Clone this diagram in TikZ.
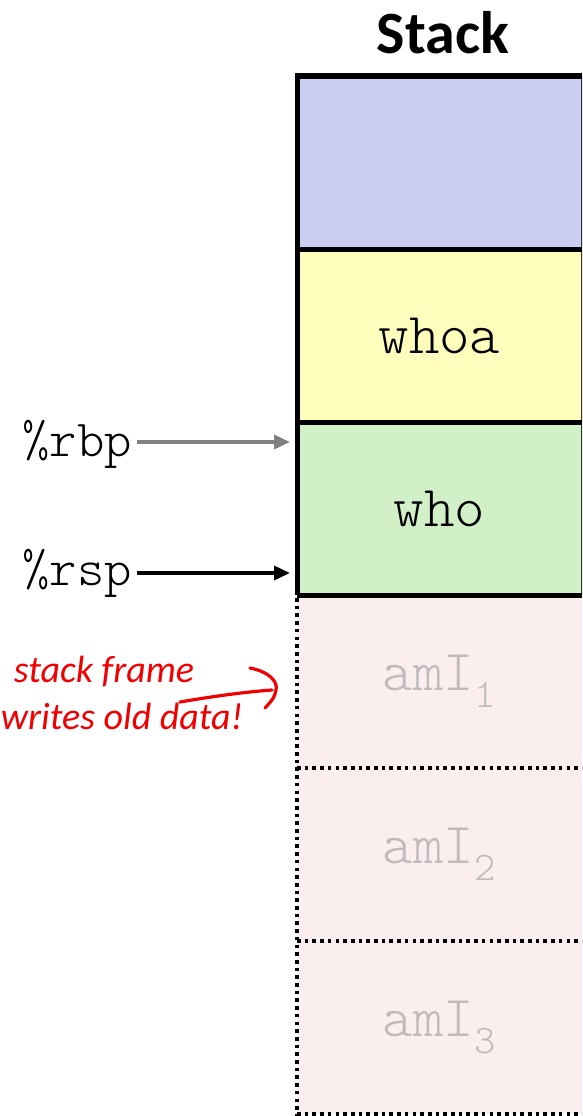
\documentclass[tikz,border=0pt]{standalone}
\usepackage{fontspec}
\setmainfont{Liberation Serif}
\setsansfont{Carlito}
\setmonofont{Latin Modern Mono Light}
\usetikzlibrary{arrows.meta,calc}
\definecolor{cblue}{RGB}{203,205,242}
\definecolor{cyellow}{RGB}{255,253,187}
\definecolor{cgreen}{RGB}{210,240,200}
\definecolor{cpink}{RGB}{250,239,238}
\definecolor{cghost}{RGB}{192,186,186}
\definecolor{cgrayarrow}{RGB}{128,128,128}
\definecolor{cred}{RGB}{240,0,0}
\tikzset{
  cell/.style={rectangle, draw=none, inner sep=0pt, outer sep=0pt,
    minimum width=285pt, minimum height=173pt,
    font=\fontsize{58}{64}\selectfont\ttfamily},
  ghost/.style={cell, fill=cpink, text=cghost},
  solidborder/.style={line width=5pt, black},
  dotborder/.style={line width=3.6pt, black, dash pattern=on 3.6pt off 4.1pt},
  reglabel/.style={inner sep=0pt, font=\fontsize{52}{58}\selectfont\ttfamily},
  regarrow/.style={line width=3.6pt, -{Triangle[length=16pt,width=14pt]}},
  hand/.style={inner sep=0pt, text=cred, font=\fontsize{38}{44}\selectfont\sffamily\itshape},
  handline/.style={cred, line width=3.2pt, line cap=round, line join=round},
}
\begin{document}
\begin{tikzpicture}[x=1pt,y=-1pt]
\useasboundingbox (0,0) rectangle (582,1116);
\clip (0,0) rectangle (582,1116);
% title
\node[inner sep=0pt, font=\fontsize{60}{66}\selectfont\sffamily\bfseries] (title) at (443,33) {Stack};
% cells
\node[cell, fill=cblue]   (b1) at (439.5,162.5) {};
\node[cell, fill=cyellow] (b2) at (439.5,335.5) {whoa};
\node[cell, fill=cgreen]  (b3) at (439.5,508.5) {who};
\node[ghost] (b4) at (439.5,681.5) {amI\textsubscript{1}};
\node[ghost] (b5) at (439.5,854.5) {amI\textsubscript{2}};
\node[ghost] (b6) at (439.5,1027.5) {amI\textsubscript{3}};
% borders of the solid frames
\draw[line width=1.2pt, black!80] (b1.north east) -- (b3.south east);
\draw[solidborder] (b1.north east) -- (b1.north west) -- (b3.south west);
\draw[solidborder] (b1.south west) -- (b1.south east);
\draw[solidborder] (b2.south west) -- (b2.south east);
\draw[solidborder] (b3.south west) -- (b3.south east);
% dotted old frames
\draw[dotborder] ($(b4.north west)+(0,3)$) -- ($(b6.south west)+(0,2)$);
\draw[dotborder] (b4.south west) -- (b4.south east);
\draw[dotborder] (b5.south west) -- (b5.south east);
\draw[dotborder] (b6.south west) -- (b6.south east);
% registers
\node[reglabel, anchor=east] (rbp) at (132,444) {\%rbp};
\node[reglabel, anchor=east] (rsp) at (132,573) {\%rsp};
\draw[regarrow, cgrayarrow] ($(rbp.east)+(5,-2)$) -- ($(rbp.east -| b3.west)+(-7,-2)$);
\draw[regarrow, black] ($(rsp.east)+(5,0)$) -- ($(rsp.east -| b3.west)+(-7,0)$);
% handwritten note
\node[hand] (note1) at (104,672) {stack frame};
\node[hand] (note2) at (122,716) {writes old data!};
\coordinate (ha) at (180,702);
\coordinate (hb) at (272,690);
\coordinate (hc) at (250,668);
\coordinate (hd) at (265,708);
\draw[handline] (ha) .. controls (215,696) and (245,692) .. (hb);
\draw[handline] (hc) .. controls (270,672) and (278,682) .. (276,690) .. controls (274,698) .. (hd);
\end{tikzpicture}
\end{document}
